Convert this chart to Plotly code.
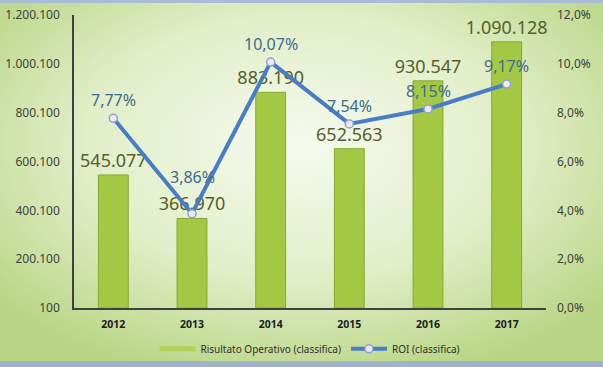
import base64
import plotly.graph_objects as go

years = ["2012", "2013", "2014", "2015", "2016", "2017"]
risultato = [545077, 366970, 883190, 652563, 930547, 1090128]
roi = [7.77, 3.86, 10.07, 7.54, 8.15, 9.17]
roi_labels = ["7,77%", "3,86%", "10,07%", "7,54%", "8,15%", "9,17%"]
roi_label_shift = [18, 37, 18, 18, 18, 18]
left_ticks = [100, 200100, 400100, 600100, 800100, 1000100, 1200100]
right_ticks = [0, 2, 4, 6, 8, 10, 12]
right_labels = ["0,0%", "2,0%", "4,0%", "6,0%", "8,0%", "10,0%", "12,0%"]

W, H = 603, 367
ML, MR, MT, MB = 74, 57, 15, 59
PW, PH = W - ML - MR, H - MT - MB

svg = f'''<svg xmlns="http://www.w3.org/2000/svg" width="{W}" height="{H}">
<defs><radialGradient id="g" cx="50%" cy="40%" r="65%">
<stop offset="0%" stop-color="#f6faee"/><stop offset="55%" stop-color="#e1eec8"/>
<stop offset="100%" stop-color="#b9d686"/></radialGradient></defs>
<rect width="{W}" height="{H}" fill="url(#g)"/>
<rect x="0" y="0" width="{W}" height="3" fill="#a9bcd6"/>
<rect x="0" y="{H-6}" width="{W}" height="6" fill="#9fb2cc"/>
</svg>'''
src = "data:image/svg+xml;base64," + base64.b64encode(svg.encode()).decode()

BAR_NAME = "Risultato Operativo (classifica)"
fig = go.Figure()
fig.add_trace(go.Bar(
    x=years, y=risultato, name=BAR_NAME, showlegend=False,
    marker=dict(color="#a3c944", line=dict(color="#86aa30", width=1)),
    text=risultato, texttemplate="%{y:,.0f}", textposition="outside",
    constraintext="none",
    textfont=dict(size=18, color="#56602a", family="Noto Sans"),
    cliponaxis=False, width=0.38,
))
# legend entry drawn as a flat bar, like the original
fig.add_trace(go.Scatter(
    x=[None], y=[None], name=BAR_NAME, mode="lines",
    line=dict(color="#b5cf5a", width=5),
))
fig.add_trace(go.Scatter(
    x=years, y=roi, name="ROI (classifica)", yaxis="y2",
    mode="lines+markers",
    line=dict(color="#4a7cc6", width=4),
    marker=dict(size=8, color="#f3e6f3", line=dict(color="#8aa3d4", width=1.5)),
    cliponaxis=False,
))

# category axis: annotations address categories by their index
annotations = [
    dict(x=i, y=v, xref="x", yref="y2", text=t, showarrow=False, yshift=s,
         font=dict(size=16, color="#3d6b8e", family="Noto Sans"))
    for i, (v, t, s) in enumerate(zip(roi, roi_labels, roi_label_shift))
]

fig.update_layout(
    width=W, height=H, separators=",.",
    margin=dict(l=ML, r=MR, t=MT, b=MB, autoexpand=False),
    paper_bgcolor="#d6e9b4", plot_bgcolor="rgba(255,255,255,0.25)",
    font=dict(family="Noto Sans", color="#404040"),
    showlegend=True,
    legend=dict(orientation="h", x=0.5, xanchor="center", y=-0.09, yanchor="top",
                font=dict(size=10, color="#303030"), bgcolor="rgba(0,0,0,0)",
                itemwidth=36),
    xaxis=dict(type="category", range=[-0.5, len(years) - 0.5], showgrid=False,
               showline=True, linecolor="#404040", linewidth=1.5,
               tickfont=dict(size=10.5, color="#202020", family="Noto Sans", weight="bold"),
               ticks="", ticklabelstandoff=6, automargin=False),
    yaxis=dict(range=[100, 1200100], tickvals=left_ticks, tickformat=",.0f",
               showgrid=False, showline=True, linecolor="#404040", linewidth=1.5,
               tickfont=dict(size=12, color="#404040"), ticks="", zeroline=False,
               ticklabelstandoff=10, automargin=False),
    yaxis2=dict(range=[0, 12], tickvals=right_ticks, ticktext=right_labels,
                overlaying="y", side="right", showgrid=False, showline=False,
                tickfont=dict(size=12, color="#404040"), zeroline=False,
                ticklabelstandoff=10, automargin=False),
    annotations=annotations,
    images=[dict(source=src, xref="paper", yref="paper",
                 x=-ML / PW, y=1 + MT / PH, sizex=W / PW, sizey=H / PH,
                 xanchor="left", yanchor="top", sizing="stretch", layer="below")],
)
fig.write_html("out.html", config={"displayModeBar": False},
               post_script="document.body.style.margin='0';document.body.style.overflow='hidden';")
